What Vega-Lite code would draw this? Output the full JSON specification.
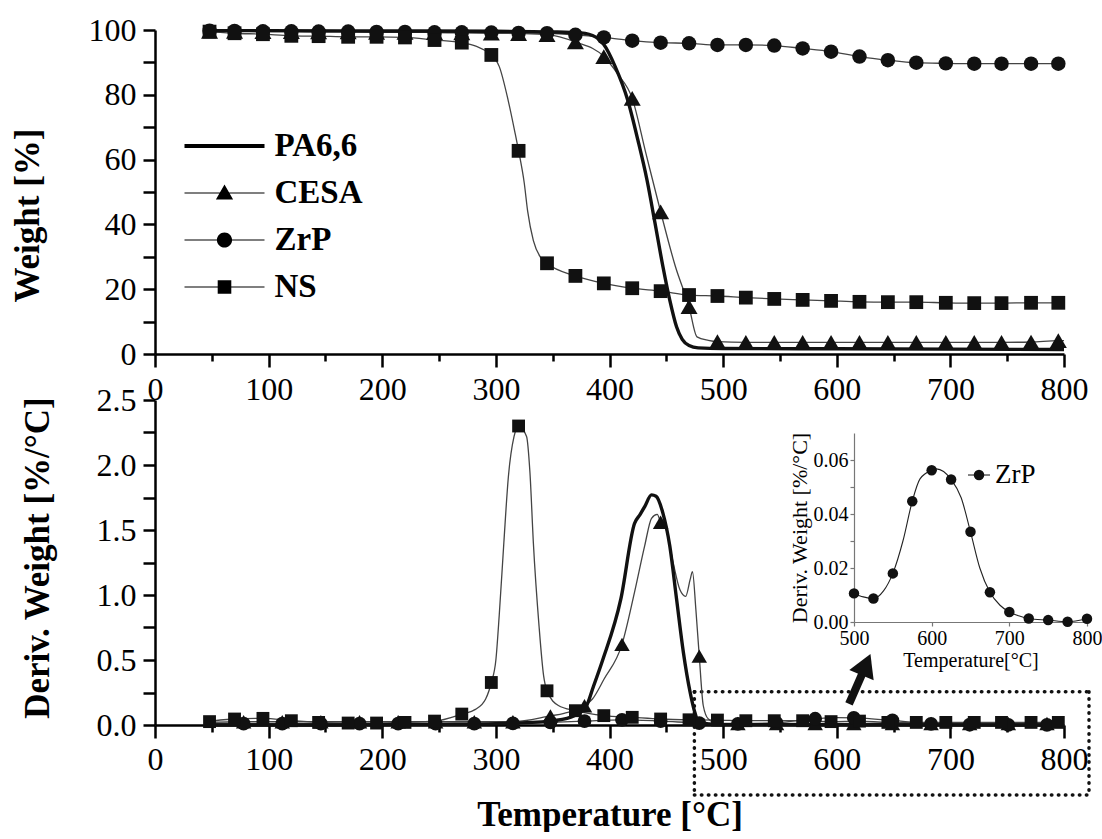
{
  "$schema": "https://vega.github.io/schema/vega-lite/v6.json",
  "background": "white",
  "padding": {"left": 10, "top": 14, "right": 0, "bottom": 0},
  "bounds": "flush",
  "spacing": 46,
  "config": {
    "font": "Liberation Serif",
    "view": {"stroke": null},
    "axis": {"grid": false, "domainColor": "black", "tickColor": "black", "labelColor": "black", "titleColor": "black", "labelFont": "Liberation Serif", "titleFont": "Liberation Serif", "labelFlush": false, "labelOverlap": false},
    "legend": {"labelFont": "Liberation Serif"},
    "text": {"font": "Liberation Serif"}
  },
  "datasets": {
    "tga": [
      {"s":"PA6,6","T":45,"v":99.8,"m":0},{"s":"PA6,6","T":100,"v":99.8,"m":0},{"s":"PA6,6","T":200,"v":99.7,"m":0},{"s":"PA6,6","T":300,"v":99.6,"m":0},{"s":"PA6,6","T":350,"v":99.4,"m":0},{"s":"PA6,6","T":375,"v":99.1,"m":0},{"s":"PA6,6","T":388,"v":97.8,"m":0},{"s":"PA6,6","T":395,"v":95.5,"m":0},{"s":"PA6,6","T":405,"v":88.7,"m":0},{"s":"PA6,6","T":416,"v":78.4,"m":0},{"s":"PA6,6","T":425,"v":66,"m":0},{"s":"PA6,6","T":433,"v":53.7,"m":0},{"s":"PA6,6","T":440,"v":40.5,"m":0},{"s":"PA6,6","T":447,"v":27,"m":0},{"s":"PA6,6","T":453,"v":16.7,"m":0},{"s":"PA6,6","T":459,"v":8.4,"m":0},{"s":"PA6,6","T":464,"v":4.5,"m":0},{"s":"PA6,6","T":470,"v":2.6,"m":0},{"s":"PA6,6","T":478,"v":1.9,"m":0},{"s":"PA6,6","T":500,"v":1.7,"m":0},{"s":"PA6,6","T":600,"v":1.6,"m":0},{"s":"PA6,6","T":700,"v":1.5,"m":0},{"s":"PA6,6","T":800,"v":1.4,"m":0},
      {"s":"CESA","T":45,"v":99.6,"m":0},{"s":"CESA","T":48,"v":99.6,"m":1},{"s":"CESA","T":70,"v":99.6,"m":1},{"s":"CESA","T":95,"v":99.5,"m":1},{"s":"CESA","T":120,"v":99.5,"m":1},{"s":"CESA","T":144,"v":99.4,"m":1},{"s":"CESA","T":170,"v":99.4,"m":1},{"s":"CESA","T":195,"v":99.3,"m":1},{"s":"CESA","T":220,"v":99.3,"m":1},{"s":"CESA","T":246,"v":99.2,"m":1},{"s":"CESA","T":270,"v":99.1,"m":1},{"s":"CESA","T":296,"v":99.0,"m":1},{"s":"CESA","T":320,"v":98.9,"m":1},{"s":"CESA","T":345,"v":98.6,"m":1},{"s":"CESA","T":370,"v":96.3,"m":1},{"s":"CESA","T":395,"v":91.8,"m":1},{"s":"CESA","T":407,"v":86.5,"m":0},{"s":"CESA","T":420,"v":78.9,"m":1},{"s":"CESA","T":432,"v":62,"m":0},{"s":"CESA","T":445,"v":43.9,"m":1},{"s":"CESA","T":458,"v":27,"m":0},{"s":"CESA","T":470,"v":14.6,"m":1},{"s":"CESA","T":477,"v":5.3,"m":0},{"s":"CESA","T":487,"v":4.2,"m":0},{"s":"CESA","T":495,"v":3.8,"m":1},{"s":"CESA","T":520,"v":3.6,"m":1},{"s":"CESA","T":545,"v":3.6,"m":1},{"s":"CESA","T":570,"v":3.6,"m":1},{"s":"CESA","T":595,"v":3.6,"m":1},{"s":"CESA","T":620,"v":3.6,"m":1},{"s":"CESA","T":645,"v":3.6,"m":1},{"s":"CESA","T":670,"v":3.6,"m":1},{"s":"CESA","T":696,"v":3.6,"m":1},{"s":"CESA","T":721,"v":3.6,"m":1},{"s":"CESA","T":745,"v":3.6,"m":1},{"s":"CESA","T":771,"v":3.7,"m":1},{"s":"CESA","T":795,"v":4.1,"m":1},{"s":"CESA","T":800,"v":4.1,"m":0},
      {"s":"ZrP","T":45,"v":99.8,"m":0},{"s":"ZrP","T":48,"v":99.8,"m":1},{"s":"ZrP","T":70,"v":99.7,"m":1},{"s":"ZrP","T":95,"v":99.6,"m":1},{"s":"ZrP","T":120,"v":99.6,"m":1},{"s":"ZrP","T":144,"v":99.5,"m":1},{"s":"ZrP","T":170,"v":99.5,"m":1},{"s":"ZrP","T":195,"v":99.4,"m":1},{"s":"ZrP","T":220,"v":99.4,"m":1},{"s":"ZrP","T":246,"v":99.3,"m":1},{"s":"ZrP","T":270,"v":99.3,"m":1},{"s":"ZrP","T":296,"v":99.2,"m":1},{"s":"ZrP","T":320,"v":99.1,"m":1},{"s":"ZrP","T":345,"v":99.0,"m":1},{"s":"ZrP","T":370,"v":98.5,"m":1},{"s":"ZrP","T":395,"v":97.7,"m":1},{"s":"ZrP","T":420,"v":96.7,"m":1},{"s":"ZrP","T":445,"v":96.1,"m":1},{"s":"ZrP","T":470,"v":95.9,"m":1},{"s":"ZrP","T":495,"v":95.4,"m":1},{"s":"ZrP","T":520,"v":95.4,"m":1},{"s":"ZrP","T":545,"v":95.2,"m":1},{"s":"ZrP","T":570,"v":94.3,"m":1},{"s":"ZrP","T":595,"v":93.3,"m":1},{"s":"ZrP","T":620,"v":91.8,"m":1},{"s":"ZrP","T":645,"v":90.7,"m":1},{"s":"ZrP","T":670,"v":89.9,"m":1},{"s":"ZrP","T":696,"v":89.7,"m":1},{"s":"ZrP","T":721,"v":89.6,"m":1},{"s":"ZrP","T":745,"v":89.6,"m":1},{"s":"ZrP","T":771,"v":89.6,"m":1},{"s":"ZrP","T":795,"v":89.6,"m":1},{"s":"ZrP","T":800,"v":89.6,"m":0},
      {"s":"NS","T":45,"v":99.6,"m":0},{"s":"NS","T":48,"v":99.5,"m":1},{"s":"NS","T":70,"v":99.0,"m":1},{"s":"NS","T":95,"v":98.7,"m":1},{"s":"NS","T":120,"v":98.2,"m":1},{"s":"NS","T":144,"v":98.1,"m":1},{"s":"NS","T":170,"v":97.9,"m":1},{"s":"NS","T":195,"v":97.9,"m":1},{"s":"NS","T":220,"v":97.7,"m":1},{"s":"NS","T":246,"v":96.9,"m":1},{"s":"NS","T":270,"v":96.1,"m":1},{"s":"NS","T":296,"v":92.3,"m":1},{"s":"NS","T":303,"v":88.7,"m":0},{"s":"NS","T":311,"v":78,"m":0},{"s":"NS","T":317,"v":68,"m":0},{"s":"NS","T":320,"v":62.7,"m":1},{"s":"NS","T":325,"v":52.7,"m":0},{"s":"NS","T":328,"v":44,"m":0},{"s":"NS","T":333,"v":35,"m":0},{"s":"NS","T":339,"v":30,"m":0},{"s":"NS","T":345,"v":28.0,"m":1},{"s":"NS","T":370,"v":24.1,"m":1},{"s":"NS","T":395,"v":21.8,"m":1},{"s":"NS","T":420,"v":20.3,"m":1},{"s":"NS","T":445,"v":19.4,"m":1},{"s":"NS","T":470,"v":18.2,"m":1},{"s":"NS","T":495,"v":17.9,"m":1},{"s":"NS","T":520,"v":17.4,"m":1},{"s":"NS","T":545,"v":17.0,"m":1},{"s":"NS","T":570,"v":16.7,"m":1},{"s":"NS","T":595,"v":16.4,"m":1},{"s":"NS","T":620,"v":16.1,"m":1},{"s":"NS","T":645,"v":16.0,"m":1},{"s":"NS","T":670,"v":16.0,"m":1},{"s":"NS","T":696,"v":15.8,"m":1},{"s":"NS","T":721,"v":15.7,"m":1},{"s":"NS","T":745,"v":15.7,"m":1},{"s":"NS","T":771,"v":15.8,"m":1},{"s":"NS","T":795,"v":15.8,"m":1},{"s":"NS","T":800,"v":15.8,"m":0}
    ],
    "dtg": [
      {"s":"PA6,6","T":45,"v":0.0,"m":0},{"s":"PA6,6","T":150,"v":0.0,"m":0},{"s":"PA6,6","T":250,"v":0.005,"m":0},{"s":"PA6,6","T":300,"v":0.01,"m":0},{"s":"PA6,6","T":348,"v":0.03,"m":0},{"s":"PA6,6","T":366,"v":0.06,"m":0},{"s":"PA6,6","T":379,"v":0.135,"m":0},{"s":"PA6,6","T":386,"v":0.3,"m":0},{"s":"PA6,6","T":394,"v":0.5,"m":0},{"s":"PA6,6","T":410,"v":0.97,"m":0},{"s":"PA6,6","T":422,"v":1.55,"m":0},{"s":"PA6,6","T":427,"v":1.62,"m":0},{"s":"PA6,6","T":431,"v":1.68,"m":0},{"s":"PA6,6","T":437,"v":1.77,"m":0},{"s":"PA6,6","T":441,"v":1.76,"m":0},{"s":"PA6,6","T":447,"v":1.63,"m":0},{"s":"PA6,6","T":453,"v":1.38,"m":0},{"s":"PA6,6","T":459,"v":0.97,"m":0},{"s":"PA6,6","T":465,"v":0.56,"m":0},{"s":"PA6,6","T":471,"v":0.25,"m":0},{"s":"PA6,6","T":475,"v":0.1,"m":0},{"s":"PA6,6","T":478,"v":0.03,"m":0},{"s":"PA6,6","T":487,"v":0.008,"m":0},{"s":"PA6,6","T":500,"v":0.003,"m":0},{"s":"PA6,6","T":800,"v":0.0,"m":0},
      {"s":"CESA","T":45,"v":0.02,"m":0},{"s":"CESA","T":78,"v":0.025,"m":1},{"s":"CESA","T":112,"v":0.025,"m":1},{"s":"CESA","T":146,"v":0.025,"m":1},{"s":"CESA","T":180,"v":0.025,"m":1},{"s":"CESA","T":214,"v":0.025,"m":1},{"s":"CESA","T":247,"v":0.025,"m":1},{"s":"CESA","T":281,"v":0.025,"m":1},{"s":"CESA","T":315,"v":0.025,"m":1},{"s":"CESA","T":348,"v":0.07,"m":1},{"s":"CESA","T":360,"v":0.09,"m":0},{"s":"CESA","T":378,"v":0.148,"m":1},{"s":"CESA","T":385,"v":0.2,"m":0},{"s":"CESA","T":395,"v":0.35,"m":0},{"s":"CESA","T":411,"v":0.62,"m":1},{"s":"CESA","T":422,"v":1.02,"m":0},{"s":"CESA","T":431,"v":1.38,"m":0},{"s":"CESA","T":437,"v":1.59,"m":0},{"s":"CESA","T":442,"v":1.62,"m":0},{"s":"CESA","T":445,"v":1.56,"m":1},{"s":"CESA","T":450,"v":1.5,"m":0},{"s":"CESA","T":456,"v":1.25,"m":0},{"s":"CESA","T":462,"v":1.04,"m":0},{"s":"CESA","T":467,"v":0.99,"m":0},{"s":"CESA","T":471,"v":1.12,"m":0},{"s":"CESA","T":473,"v":1.18,"m":0},{"s":"CESA","T":476,"v":0.89,"m":0},{"s":"CESA","T":479,"v":0.53,"m":1},{"s":"CESA","T":482.5,"v":0.15,"m":0},{"s":"CESA","T":487,"v":0.046,"m":0},{"s":"CESA","T":496,"v":0.012,"m":0},{"s":"CESA","T":513,"v":0.012,"m":1},{"s":"CESA","T":547,"v":0.012,"m":1},{"s":"CESA","T":581,"v":0.012,"m":1},{"s":"CESA","T":615,"v":0.012,"m":1},{"s":"CESA","T":649,"v":0.012,"m":1},{"s":"CESA","T":683,"v":0.012,"m":1},{"s":"CESA","T":717,"v":0.012,"m":1},{"s":"CESA","T":751,"v":0.012,"m":1},{"s":"CESA","T":785,"v":0.012,"m":1},{"s":"CESA","T":800,"v":0.012,"m":0},
      {"s":"ZrP","T":45,"v":0.01,"m":0},{"s":"ZrP","T":78,"v":0.01,"m":1},{"s":"ZrP","T":112,"v":0.01,"m":1},{"s":"ZrP","T":146,"v":0.01,"m":1},{"s":"ZrP","T":180,"v":0.01,"m":1},{"s":"ZrP","T":214,"v":0.01,"m":1},{"s":"ZrP","T":247,"v":0.01,"m":1},{"s":"ZrP","T":281,"v":0.01,"m":1},{"s":"ZrP","T":315,"v":0.012,"m":1},{"s":"ZrP","T":348,"v":0.02,"m":1},{"s":"ZrP","T":378,"v":0.03,"m":1},{"s":"ZrP","T":411,"v":0.04,"m":1},{"s":"ZrP","T":445,"v":0.03,"m":1},{"s":"ZrP","T":479,"v":0.015,"m":1},{"s":"ZrP","T":513,"v":0.009,"m":1},{"s":"ZrP","T":547,"v":0.017,"m":1},{"s":"ZrP","T":581,"v":0.048,"m":1},{"s":"ZrP","T":600,"v":0.0565,"m":0},{"s":"ZrP","T":615,"v":0.055,"m":1},{"s":"ZrP","T":649,"v":0.035,"m":1},{"s":"ZrP","T":683,"v":0.008,"m":1},{"s":"ZrP","T":717,"v":0.002,"m":1},{"s":"ZrP","T":751,"v":0.001,"m":1},{"s":"ZrP","T":785,"v":0.001,"m":1},{"s":"ZrP","T":800,"v":0.001,"m":0},
      {"s":"NS","T":45,"v":0.02,"m":0},{"s":"NS","T":48,"v":0.026,"m":1},{"s":"NS","T":70,"v":0.046,"m":1},{"s":"NS","T":95,"v":0.051,"m":1},{"s":"NS","T":120,"v":0.033,"m":1},{"s":"NS","T":144,"v":0.02,"m":1},{"s":"NS","T":170,"v":0.015,"m":1},{"s":"NS","T":195,"v":0.015,"m":1},{"s":"NS","T":220,"v":0.02,"m":1},{"s":"NS","T":246,"v":0.03,"m":1},{"s":"NS","T":270,"v":0.084,"m":1},{"s":"NS","T":282,"v":0.12,"m":0},{"s":"NS","T":291,"v":0.2,"m":0},{"s":"NS","T":296,"v":0.327,"m":1},{"s":"NS","T":300,"v":0.5,"m":0},{"s":"NS","T":303,"v":0.85,"m":0},{"s":"NS","T":307,"v":1.4,"m":0},{"s":"NS","T":311,"v":1.91,"m":0},{"s":"NS","T":316,"v":2.22,"m":0},{"s":"NS","T":320,"v":2.30,"m":1},{"s":"NS","T":327,"v":2.22,"m":0},{"s":"NS","T":330,"v":1.94,"m":0},{"s":"NS","T":333,"v":1.4,"m":0},{"s":"NS","T":338,"v":0.76,"m":0},{"s":"NS","T":342,"v":0.38,"m":0},{"s":"NS","T":345,"v":0.263,"m":1},{"s":"NS","T":355,"v":0.15,"m":0},{"s":"NS","T":370,"v":0.11,"m":1},{"s":"NS","T":395,"v":0.072,"m":1},{"s":"NS","T":420,"v":0.059,"m":1},{"s":"NS","T":445,"v":0.046,"m":1},{"s":"NS","T":470,"v":0.04,"m":1},{"s":"NS","T":495,"v":0.038,"m":1},{"s":"NS","T":520,"v":0.033,"m":1},{"s":"NS","T":545,"v":0.033,"m":1},{"s":"NS","T":570,"v":0.033,"m":1},{"s":"NS","T":595,"v":0.026,"m":1},{"s":"NS","T":620,"v":0.03,"m":1},{"s":"NS","T":645,"v":0.02,"m":1},{"s":"NS","T":670,"v":0.02,"m":1},{"s":"NS","T":696,"v":0.02,"m":1},{"s":"NS","T":721,"v":0.02,"m":1},{"s":"NS","T":745,"v":0.02,"m":1},{"s":"NS","T":771,"v":0.02,"m":1},{"s":"NS","T":795,"v":0.02,"m":1},{"s":"NS","T":800,"v":0.02,"m":0}
    ],
    "ins": [
      {"s":"ZrP","T":500,"v":0.0106,"m":1},{"s":"ZrP","T":512,"v":0.0093,"m":0},{"s":"ZrP","T":525,"v":0.0087,"m":1},{"s":"ZrP","T":538,"v":0.0115,"m":0},{"s":"ZrP","T":550,"v":0.018,"m":1},{"s":"ZrP","T":563,"v":0.030,"m":0},{"s":"ZrP","T":575,"v":0.0447,"m":1},{"s":"ZrP","T":585,"v":0.053,"m":0},{"s":"ZrP","T":600,"v":0.0562,"m":1},{"s":"ZrP","T":606,"v":0.0567,"m":0},{"s":"ZrP","T":625,"v":0.0528,"m":1},{"s":"ZrP","T":638,"v":0.046,"m":0},{"s":"ZrP","T":650,"v":0.0334,"m":1},{"s":"ZrP","T":662,"v":0.020,"m":0},{"s":"ZrP","T":675,"v":0.011,"m":1},{"s":"ZrP","T":688,"v":0.0062,"m":0},{"s":"ZrP","T":700,"v":0.0037,"m":1},{"s":"ZrP","T":712,"v":0.0023,"m":0},{"s":"ZrP","T":725,"v":0.0013,"m":1},{"s":"ZrP","T":750,"v":0.0007,"m":1},{"s":"ZrP","T":775,"v":0.0001,"m":1},{"s":"ZrP","T":800,"v":0.0012,"m":1}
    ],
    "notes": [
      {"g":"box","T":474.7,"T2":822,"v":0.256,"v2":0.256},
      {"g":"box","T":474.7,"T2":822,"v":-0.538,"v2":-0.538},
      {"g":"box","T":474.7,"T2":474.7,"v":0.256,"v2":-0.538},
      {"g":"box","T":822,"T2":822,"v":0.256,"v2":-0.538},
      {"g":"stem","T":610.8,"T2":622.2,"v":0.162,"v2":0.39},
      {"g":"head","T":625.7,"v":0.465},
      {"g":"key","T":715.5,"T2":734.9,"v":1.923,"v2":1.923},
      {"g":"keydot","T":725.2,"v":1.923},
      {"g":"keytext","T":739.3,"v":1.923,"label":"ZrP"}
    ]
  },
  "vconcat": [
    {
      "width": 909,
      "height": 324,
      "encoding": {
        "x": {"field": "T", "type": "quantitative", "scale": {"domain": [0, 800], "nice": false, "zero": false},
          "axis": {"title": null, "values": [0,50,100,150,200,250,300,350,400,450,500,550,600,650,700,750,800], "labelExpr": "datum.value % 100 === 0 ? datum.label : ''", "tickSize": {"condition": {"test": "datum.value % 100 !== 0", "value": 7}, "value": 13}, "labelFont": "Liberation Serif", "labelFontSize": 32, "labelPadding": 7, "domainWidth": 2.5, "tickWidth": 2.5}},
        "y": {"field": "v", "type": "quantitative", "scale": {"domain": [0, 100], "nice": false},
          "axis": {"title": "Weight [%]", "values": [0,10,20,30,40,50,60,70,80,90,100], "labelExpr": "datum.value % 20 === 0 ? datum.label : ''", "tickSize": 12, "labelFont": "Liberation Serif", "labelFontSize": 32, "labelPadding": 7, "domainWidth": 2.5, "tickWidth": 2.5, "titleFont": "Liberation Serif", "titleFontSize": 35, "titleFontWeight": "bold", "titleX": -117, "titleY": 185, "titleBaseline": "alphabetic", "titleAngle": 270, "titleAlign": "center"}}
      },
      "layer": [
        {"data": {"name": "tga"}, "transform": [{"filter": "datum.s !== 'PA6,6'"}], "mark": {"type": "line", "interpolate": "monotone", "strokeWidth": 1.3, "color": "#444"}, "encoding": {"detail": {"field": "s"}}},
        {"data": {"name": "tga"}, "transform": [{"filter": "datum.s === 'PA6,6'"}], "mark": {"type": "line", "interpolate": "monotone", "strokeWidth": 3.4, "color": "#111"}},
        {"data": {"name": "tga"}, "transform": [{"filter": "datum.s === 'CESA' && datum.m === 1"}], "mark": {"type": "point", "shape": "triangle-up", "filled": true, "opacity": 1, "color": "#111", "size": 289}},
        {"data": {"name": "tga"}, "transform": [{"filter": "datum.s === 'ZrP' && datum.m === 1"}], "mark": {"type": "point", "shape": "circle", "filled": true, "opacity": 1, "color": "#111", "size": 210}},
        {"data": {"name": "tga"}, "transform": [{"filter": "datum.s === 'NS' && datum.m === 1"}], "mark": {"type": "point", "shape": "square", "filled": true, "opacity": 1, "color": "#111", "size": 190}},
        {"data": {"name": "tga"}, "transform": [{"filter": "false"}], "mark": {"type": "point", "filled": true, "opacity": 1, "color": "black"},
          "encoding": {"shape": {"field": "s", "type": "nominal",
            "scale": {"domain": ["PA6,6", "CESA", "ZrP", "NS"], "range": [
              "M-2,-0.1H2V0.1H-2Z",
              "M-2,-0.03H2V0.03H-2Z M-0.43,0.32L0,-0.43L0.43,0.32Z",
              "M-2,-0.03H2V0.03H-2Z M0.38,0C0.38,0.21 0.21,0.38 0,0.38C-0.21,0.38 -0.38,0.21 -0.38,0C-0.38,-0.21 -0.21,-0.38 0,-0.38C0.21,-0.38 0.38,-0.21 0.38,0Z",
              "M-2,-0.03H2V0.03H-2Z M-0.34,-0.34H0.34V0.34H-0.34Z"]},
            "legend": {"orient": "none", "legendX": 49.5, "legendY": 96, "title": null, "symbolSize": 1600, "symbolFillColor": "black", "symbolStrokeWidth": 0, "symbolOpacity": 1, "labelFontSize": 33, "labelFontWeight": "bold", "labelOffset": 30, "rowPadding": 10, "padding": 0, "labelColor": "black", "labelFont": "Liberation Serif"}}}}
      ]
    },
    {
      "width": 909,
      "height": 325,
      "layer": [
        {
          "encoding": {
            "x": {"field": "T", "type": "quantitative", "scale": {"domain": [0, 800], "nice": false, "zero": false},
              "axis": {"orient": "bottom", "title": "Temperature [°C]", "values": [0,50,100,150,200,250,300,350,400,450,500,550,600,650,700,750,800], "labelExpr": "datum.value % 100 === 0 ? datum.label : ''", "tickSize": {"condition": {"test": "datum.value % 100 !== 0", "value": 7}, "value": 13}, "labelFont": "Liberation Serif", "labelFontSize": 32, "labelPadding": 6, "domainWidth": 2.5, "tickWidth": 2.5, "titleFont": "Liberation Serif", "titleFontSize": 35, "titleFontWeight": "bold", "titleY": 100, "titleBaseline": "alphabetic"}},
            "y": {"field": "v", "type": "quantitative", "scale": {"domain": [0, 2.5], "nice": false},
              "axis": {"orient": "left", "title": "Deriv. Weight [%/°C]", "values": [0,0.25,0.5,0.75,1,1.25,1.5,1.75,2,2.25,2.5], "labelExpr": "(datum.value * 2) % 1 === 0 ? format(datum.value, '.1f') : ''", "tickSize": 12, "labelFont": "Liberation Serif", "labelFontSize": 32, "labelPadding": 7, "domainWidth": 2.5, "tickWidth": 2.5, "titleFont": "Liberation Serif", "titleFontSize": 35, "titleFontWeight": "bold", "titleX": -107, "titleY": 157.5, "titleBaseline": "alphabetic", "titleAngle": 270, "titleAlign": "center"}}
          },
          "layer": [
            {"data": {"name": "notes"}, "transform": [{"filter": "datum.g === 'box'"}], "mark": {"type": "rule", "stroke": "#111", "strokeWidth": 3.5, "strokeDash": [0.5, 6.5], "strokeCap": "round"},
              "encoding": {"x2": {"field": "T2"}, "y2": {"field": "v2"}}},
            {"data": {"name": "dtg"}, "transform": [{"filter": "datum.s !== 'PA6,6'"}], "mark": {"type": "line", "interpolate": "monotone", "strokeWidth": 1.3, "color": "#444"}, "encoding": {"detail": {"field": "s"}}},
            {"data": {"name": "dtg"}, "transform": [{"filter": "datum.s === 'PA6,6'"}], "mark": {"type": "line", "interpolate": "monotone", "strokeWidth": 3.4, "color": "#111"}},
            {"data": {"name": "dtg"}, "transform": [{"filter": "datum.s === 'CESA' && datum.m === 1"}], "mark": {"type": "point", "shape": "triangle-up", "filled": true, "opacity": 1, "color": "#111", "size": 240}},
            {"data": {"name": "dtg"}, "transform": [{"filter": "datum.s === 'ZrP' && datum.m === 1"}], "mark": {"type": "point", "shape": "circle", "filled": true, "opacity": 1, "color": "#111", "size": 190}},
            {"data": {"name": "dtg"}, "transform": [{"filter": "datum.s === 'NS' && datum.m === 1"}], "mark": {"type": "point", "shape": "square", "filled": true, "opacity": 1, "color": "#111", "size": 165}},
            {"data": {"name": "notes"}, "transform": [{"filter": "datum.g === 'stem'"}], "mark": {"type": "rule", "stroke": "#111", "strokeWidth": 8},
              "encoding": {"x2": {"field": "T2"}, "y2": {"field": "v2"}}},
            {"data": {"name": "notes"}, "transform": [{"filter": "datum.g === 'head'"}], "mark": {"type": "point", "shape": "triangle-up", "filled": true, "opacity": 1, "color": "#111", "size": 700, "angle": 23}},
            {"data": {"name": "notes"}, "transform": [{"filter": "datum.g === 'key'"}], "mark": {"type": "rule", "stroke": "#222", "strokeWidth": 1.1},
              "encoding": {"x2": {"field": "T2"}, "y2": {"field": "v2"}}},
            {"data": {"name": "notes"}, "transform": [{"filter": "datum.g === 'keydot'"}], "mark": {"type": "point", "shape": "circle", "filled": true, "opacity": 1, "color": "#111", "size": 110}},
            {"data": {"name": "notes"}, "transform": [{"filter": "datum.g === 'keytext'"}], "mark": {"type": "text", "align": "left", "baseline": "middle", "font": "Liberation Serif", "fontSize": 27, "color": "black"},
              "encoding": {"text": {"field": "label"}}}
          ]
        },
        {
          "encoding": {
            "x": {"field": "T", "type": "quantitative", "scale": {"domain": [500, 800], "range": [699, 932], "nice": false, "zero": false},
              "axis": {"orient": "bottom", "offset": -103, "values": [500, 600, 700, 800], "tickSize": 4, "labelPadding": 2, "labelFont": "Liberation Serif", "labelFontSize": 20, "domainColor": "#777", "tickColor": "#777", "domainWidth": 1.2, "tickWidth": 1.2, "title": "Temperature[°C]", "titleFont": "Liberation Serif", "titleFontSize": 20, "titleFontWeight": "normal", "titlePadding": 2}},
            "y": {"field": "v", "type": "quantitative", "scale": {"domain": [0, 0.07], "range": [222, 33], "nice": false},
              "axis": {"orient": "left", "offset": -699, "values": [0, 0.01, 0.02, 0.03, 0.04, 0.05, 0.06], "labelExpr": "round(datum.value * 100) % 2 === 0 ? format(datum.value, '.2f') : ''", "tickSize": 4, "labelPadding": 2, "labelFont": "Liberation Serif", "labelFontSize": 20, "domainColor": "#777", "tickColor": "#777", "domainWidth": 1.2, "tickWidth": 1.2, "title": "Deriv. Weight [%/°C]", "titleFont": "Liberation Serif", "titleFontSize": 22, "titleFontWeight": "normal", "titlePadding": 2}}
          },
          "layer": [
            {"data": {"name": "ins"}, "mark": {"type": "line", "interpolate": "monotone", "strokeWidth": 1.1, "color": "#222"}},
            {"data": {"name": "ins"}, "transform": [{"filter": "datum.m === 1"}], "mark": {"type": "point", "shape": "circle", "filled": true, "opacity": 1, "color": "#111", "size": 110}}
          ]
        }
      ],
      "resolve": {"scale": {"x": "independent", "y": "independent"}, "axis": {"x": "independent", "y": "independent"}}
    }
  ]
}
